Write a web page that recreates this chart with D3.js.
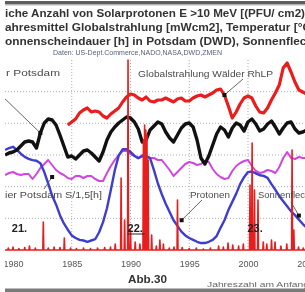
<!DOCTYPE html>
<html>
<head>
<meta charset="utf-8">
<script src="https://cdn.jsdelivr.net/npm/d3@7"></script>
<style>
  html, body { margin: 0; padding: 0; background: #fff; }
  svg { display: block; font-family: "Liberation Sans", Arial, sans-serif; filter: blur(0.35px); }
</style>
</head>
<body>
<svg id="chart" width="305" height="292"></svg>
<script>
// Zeitreihen: ein Wert alle 4 Monate ab Mitte 1979
const startYear = 1979.33;
const stepYear = 1 / 3;
const tickYears = [1980, 1985, 1990, 1995, 2000, 2005];
const gridYears = [1985, 1990, 1995, 2000];

// Sonnenflecken (geglaettete Relativzahl)
const sunspots = [158, 161, 163, 158, 152, 147, 144, 142, 141, 137,
  123, 105, 86, 72, 55, 42, 32, 23, 19, 16,
  15, 13, 15, 17, 28, 44, 66, 95, 126, 149,
  159, 159, 155, 149, 145, 148, 149, 145, 126, 105,
  88, 73, 60, 47, 38, 29, 23, 19, 16, 13,
  11, 11, 13, 16, 22, 35, 47, 63, 76, 89,
  104, 115, 123, 124, 121, 118, 117, 114, 104, 95,
  85, 77, 69, 61, 55, 48, 41, 35];

// Temperatur Potsdam [°C]
const tempPotsdam = [8.85, 8.91, 8.94, 9.00, 9.12, 9.24, 9.27, 9.24, 9.06, 9.51,
  9.81, 9.93, 9.90, 9.75, 9.45, 9.12, 8.79, 8.82, 8.73, 8.85,
  8.97, 9.00, 8.91, 8.79, 8.67, 8.94, 9.30, 9.54, 9.69, 9.81,
  9.90, 9.99, 9.96, 9.84, 9.63, 9.24, 9.30, 9.60, 9.72, 9.84,
  9.78, 9.54, 9.36, 9.24, 9.45, 9.66, 9.78, 9.81, 9.69, 9.30,
  8.76, 8.58, 8.82, 9.15, 9.48, 9.69, 9.60, 9.39, 9.66, 9.81,
  9.75, 9.57, 9.84, 9.93, 9.78, 9.57, 9.63, 9.78, 9.87, 9.69,
  9.48, 9.66, 9.81, 9.84, 9.63, 9.51, 9.54, 9.60];

// Sonnenscheindauer Potsdam S/1,5 [h]
const sunshine = [1075, 1085, 1090, 1080, 1075, 1080, 1080, 1055, 1080, 1110,
  1130, 1150, 1125, 1100, 1085, 1075, 1060, 1055, 1070, 1070,
  1060, 1070, 1070, 1055, 1045, 1045, 1085, 1120, 1150, 1175,
  1195, 1195, 1180, 1170, 1160, 1175, 1170, 1160, 1160, 1150,
  1150, 1125, 1100, 1070, 1090, 1110, 1130, 1140, 1135, 1125,
  1130, 1145, 1140, 1105, 1080, 1065, 1055, 1060, 1095, 1120,
  1135, 1145, 1150, 1120, 1095, 1085, 1090, 1100, 1095, 1085,
  1115, 1160, 1190, 1160, 1155, 1165, 1160, 1160];

// Globalstrahlung Waelder RhLP [mW/cm2], beginnt spaeter
const globStart = 1984.66;
const globalRad = [11.00, 11.12, 11.24, 11.48, 11.60, 11.68, 11.52, 11.56, 11.52, 11.36,
  11.28, 11.44, 11.56, 11.68, 11.92, 12.12, 12.24, 12.20, 12.08, 12.00,
  12.12, 11.96, 11.92, 12.00, 12.00, 12.08, 12.00, 11.92, 12.04, 12.08,
  11.96, 11.96, 12.08, 12.16, 12.20, 12.12, 12.20, 12.28, 12.40, 12.44,
  12.20, 11.76, 11.28, 11.52, 11.84, 12.08, 12.16, 12.08, 11.76, 11.52,
  11.48, 11.68, 12.00, 12.28, 12.60, 13.28, 13.48, 13.12, 12.72, 12.40,
  12.32, 12.24];

// Solarprotonen E > 10 MeV: [Jahr, Anzahl]
const protonEvents = [
  [1979.6, 20], [1980.0, 30], [1980.5, 15], [1981.0, 25], [1981.4, 40], [1981.9, 20],
  [1982.58, 280], [1983.0, 20], [1983.5, 30], [1984.0, 25], [1984.37, 120], [1984.9, 20],
  [1985.4, 15], [1986.0, 20], [1986.6, 15], [1987.2, 20], [1987.8, 25], [1988.3, 30],
  [1988.7, 60], [1989.2, 720], [1989.5, 300], [1989.79, 1900], [1990.0, 200], [1990.4, 80],
  [1990.8, 60], [1991.1, 1100], [1991.2, 1250], [1991.3, 1200], [1991.4, 1150], [1991.5, 900],
  [1991.8, 150], [1992.2, 40], [1992.5, 100], [1992.8, 60], [1993.3, 20], [1993.7, 30],
  [1994.0, 500], [1994.4, 25], [1995.0, 15], [1995.6, 20], [1996.2, 10], [1996.8, 20],
  [1997.5, 40], [1997.9, 30], [1998.3, 70], [1998.7, 50], [1999.2, 40], [1999.6, 60],
  [2000.17, 650], [2000.35, 1070], [2000.55, 600], [2000.85, 500], [2001.3, 80], [2001.6, 60],
  [2002.0, 100], [2002.3, 80], [2002.8, 40], [2003.3, 60], [2003.75, 1000], [2003.9, 200],
  [2004.3, 30], [2004.7, 20]
];

const titleLines = [
  "iche Anzahl von Solarprotonen  E >10 MeV [(PFU/ cm2)",
  "ahresmittel Globalstrahlung [mWcm2], Temperatur [°C",
  "onnenscheindauer [h] in Potsdam (DWD), Sonnenfleck"
];
const sourceText = "Daten: US-Dept.Commerce,NADO,NASA,DWD,ZMEN";
const cycleLabels = [["21.", 1979.9], ["22.", 1989.75], ["23.", 1999.95]];

const svg = d3.select("#chart");
const W = 305, H = 292;

const x = d3.scaleLinear().domain([1979.32, 2004.85]).range([5, 305]);
const ySun = d3.scaleLinear().domain([0, 300]).range([250, 60]);
const yTemp = d3.scaleLinear().domain([6, 11.7]).range([250, 60]);
const ySonne = d3.scaleLinear().domain([700, 1650]).range([250, 60]);
const yGlob = d3.scaleLinear().domain([6, 13.6]).range([250, 60]);
const yProt = d3.scaleLinear().domain([0, 1900]).range([250, 60]);

svg.append("defs").append("clipPath").attr("id", "clip")
  .append("rect").attr("x", 5).attr("y", 0).attr("width", W - 5).attr("height", H);

const g = svg.append("g").attr("clip-path", "url(#clip)");

// Rahmenbalken oben und unten
g.append("rect").attr("x", 0).attr("y", 1).attr("width", W).attr("height", 3.5).attr("fill", "#5e5e5e");
g.append("rect").attr("x", 0).attr("y", 4.5).attr("width", W).attr("height", 1).attr("fill", "#bbb");
g.append("rect").attr("x", 0).attr("y", 288.5).attr("width", W).attr("height", 3.5).attr("fill", "#7a7a7a");

// Titel
const titleLens = [300, 306, 308];
titleLines.forEach((t, i) => {
  g.append("text")
    .attr("x", 5).attr("y", 17 + i * 14)
    .attr("font-size", 10).attr("font-weight", "bold").attr("fill", "#333")
    .attr("textLength", titleLens[i]).attr("lengthAdjust", "spacingAndGlyphs")
    .text(t);
});
g.append("text")
  .attr("x", 53).attr("y", 54.5)
  .attr("font-size", 6.5).attr("fill", "#56607a")
  .attr("textLength", 169).attr("lengthAdjust", "spacingAndGlyphs")
  .text(sourceText);

// Gitter
g.append("g").selectAll("line").data(ySun.ticks(6).filter(d => d > 0 && d < 300))
  .join("line")
  .attr("x1", 5).attr("x2", W)
  .attr("y1", d => ySun(d)).attr("y2", d => ySun(d))
  .attr("stroke", "#9a9a9a").attr("stroke-width", 0.8).attr("stroke-dasharray", "1,2");
g.append("g").selectAll("line").data(gridYears)
  .join("line")
  .attr("x1", d => x(d)).attr("x2", d => x(d))
  .attr("y1", 60).attr("y2", 250)
  .attr("stroke", "#9a9a9a").attr("stroke-width", 0.8).attr("stroke-dasharray", "1,2");

const tOf = (i, s) => s + i * stepYear;

function drawSeries(values, start, yScale, color, width) {
  const line = d3.line()
    .x((d, i) => x(tOf(i, start)))
    .y(d => yScale(d));
  g.append("path")
    .datum(values)
    .attr("d", line)
    .attr("fill", "none")
    .attr("stroke", color)
    .attr("stroke-width", width)
    .attr("stroke-linejoin", "round");
}

drawSeries(sunshine, startYear, ySonne, "#d046e0", 2);
drawSeries(sunspots, startYear, ySun, "#3d3dd2", 2.4);
drawSeries(tempPotsdam, startYear, yTemp, "#111", 3.4);
drawSeries(globalRad, globStart, yGlob, "#ea1c1c", 3.2);

// Protonen als Spitzen auf der Grundlinie
const protPts = [[x.domain()[0], 0]];
protonEvents.forEach(([t, v]) => {
  protPts.push([t - 0.04, 0], [t, v], [t + 0.04, 0]);
});
protPts.push([x.domain()[1], 0]);
g.append("path")
  .datum(protPts)
  .attr("d", d3.area().x(d => x(d[0])).y0(yProt(0)).y1(d => yProt(d[1])))
  .attr("fill", "#ee2a2a")
  .attr("stroke", "#e81e1e")
  .attr("stroke-width", 1.6)
  .attr("stroke-linejoin", "round");

// Achse
const axis = g.append("g")
  .attr("transform", `translate(0,${258})`)
  .call(d3.axisBottom(x).tickValues(tickYears).tickFormat(d3.format("d")).tickSize(0));
axis.select(".domain").remove();
axis.selectAll("text")
  .attr("font-size", 9).attr("fill", "#555")
  .attr("font-family", "Liberation Sans, Arial, sans-serif");

// Zyklusnummern
g.append("g").selectAll("text").data(cycleLabels)
  .join("text")
  .attr("x", d => x(d[1])).attr("y", 232)
  .attr("font-size", 11).attr("font-weight", "bold").attr("fill", "#222")
  .text(d => d[0]);
g.append("line")
  .attr("x1", x(1989.75)).attr("x2", x(1989.75) + 17)
  .attr("y1", 234).attr("y2", 234)
  .attr("stroke", "#222").attr("stroke-width", 1);

// Beschriftungen mit Zeigern
const labelFont = 9, labelColor = "#4a4a4a";
const notes = [
  { text: "r Potsdam", x: 6, y: 76, len: 54, from: [0, 94], to: [x(tOf(9, startYear)), yTemp(tempPotsdam[9])] },
  { text: "Globalstrahlung Wälder RhLP", x: 138, y: 77, len: 135, from: [243, 79], to: [x(tOf(40, globStart)), yGlob(globalRad[40])] },
  { text: "ier Potsdam S/1,5[h]", x: 5, y: 198, len: 97, from: [44, 189], to: [x(tOf(12, startYear)), ySonne(1065)] },
  { text: "Protonen", x: 190, y: 198, len: 40, from: [202, 200], to: [x(1994.35), ySun(47)] },
  { text: "Sonnenflec", x: 258, y: 198, len: 47, from: [291, 202], to: [x(tOf(75, startYear)), ySun(sunspots[75]) - 4] }
];
notes.forEach(n => {
  g.append("line")
    .attr("x1", n.from[0]).attr("y1", n.from[1])
    .attr("x2", n.to[0]).attr("y2", n.to[1])
    .attr("stroke", "#555").attr("stroke-width", 0.9);
  g.append("rect")
    .attr("x", n.to[0] - 2).attr("y", n.to[1] - 2)
    .attr("width", 4).attr("height", 4).attr("fill", "#111");
  g.append("text")
    .attr("x", n.x).attr("y", n.y)
    .attr("font-size", labelFont).attr("fill", labelColor)
    .attr("textLength", n.len).attr("lengthAdjust", "spacingAndGlyphs")
    .text(n.text);
});

// Fusszeile
g.append("text")
  .attr("x", 128).attr("y", 283)
  .attr("font-size", 10.5).attr("font-weight", "bold").attr("fill", "#333")
  .attr("textLength", 39).attr("lengthAdjust", "spacingAndGlyphs")
  .text("Abb.30");
g.append("text")
  .attr("x", 207).attr("y", 287)
  .attr("font-size", 7).attr("fill", "#666")
  .attr("textLength", 102).attr("lengthAdjust", "spacingAndGlyphs")
  .text("Jahreszahl am Anfang");
</script>
</body>
</html>
